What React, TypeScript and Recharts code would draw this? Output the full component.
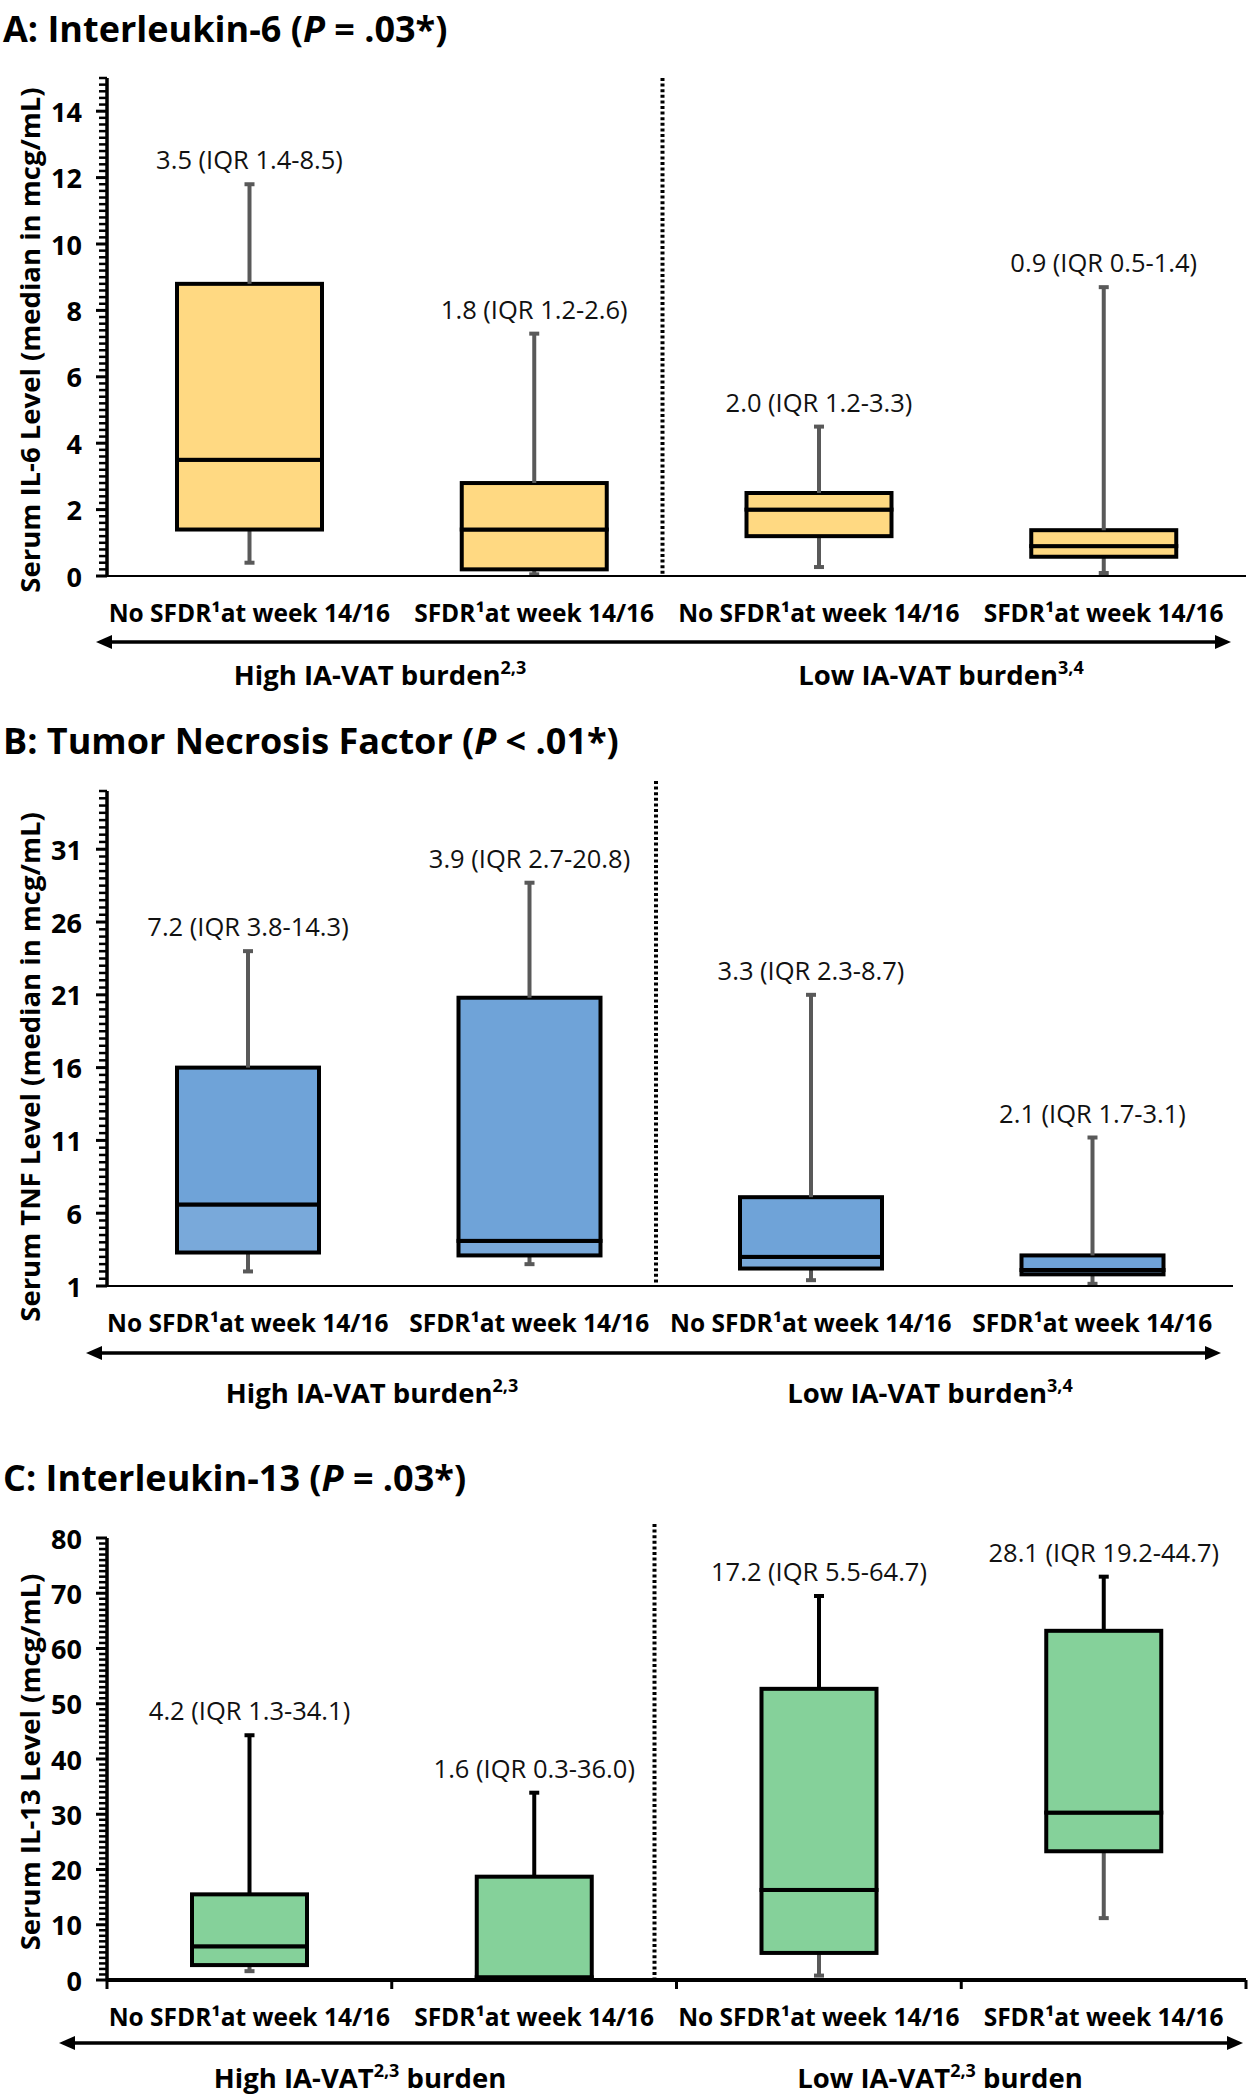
import React from 'react';
import { ComposedChart, Bar, XAxis, YAxis, ReferenceLine, LabelList } from 'recharts';

const FONT = "'Open Sans', sans-serif";

const groupKeys = ['high-no', 'high-sfdr', 'low-no', 'low-sfdr'];
const categoryLabels = [
  'No SFDR¹at week 14/16',
  'SFDR¹at week 14/16',
  'No SFDR¹at week 14/16',
  'SFDR¹at week 14/16',
];

// A: IL-6 (mcg/mL)
const il6Low = [0.4, 0.05, 0.27, 0.09];
const il6Q1 = [1.4, 0.2, 1.2, 0.58];
const il6Median = [3.5, 1.4, 2.0, 0.9];
const il6Q3 = [8.8, 2.8, 2.5, 1.38];
const il6High = [11.8, 7.3, 4.5, 8.7];
const il6Labels = ['3.5 (IQR 1.4-8.5)', '1.8 (IQR 1.2-2.6)', '2.0 (IQR 1.2-3.3)', '0.9 (IQR 0.5-1.4)'];
const il6Ticks = [0, 2, 4, 6, 8, 10, 12, 14];

// B: TNF (mcg/mL)
const tnfLow = [2.0, 2.5, 1.4, 1.15];
const tnfQ1 = [3.3, 3.1, 2.2, 1.8];
const tnfMedian = [6.6, 4.1, 3.0, 2.1];
const tnfQ3 = [16.0, 20.8, 7.1, 3.1];
const tnfHigh = [24.0, 28.7, 21.0, 11.2];
const tnfLabels = ['7.2 (IQR 3.8-14.3)', '3.9 (IQR 2.7-20.8)', '3.3 (IQR 2.3-8.7)', '2.1 (IQR 1.7-3.1)'];
const tnfTicks = [1, 6, 11, 16, 21, 26, 31];

// C: IL-13 (mcg/mL)
const il13Low = [1.6, 0.0, 0.8, 11.2];
const il13Q1 = [2.7, 0.2, 4.9, 23.3];
const il13Median = [6.1, 0.5, 16.3, 30.3];
const il13Q3 = [15.5, 18.7, 52.7, 63.2];
const il13High = [44.3, 33.9, 69.5, 73.0];
const il13Labels = ['4.2 (IQR 1.3-34.1)', '1.6 (IQR 0.3-36.0)', '17.2 (IQR 5.5-64.7)', '28.1 (IQR 19.2-44.7)'];
const il13Ticks = [0, 10, 20, 30, 40, 50, 60, 70, 80];

const buildRows = (lo: number[], q1: number[], med: number[], q3: number[], hi: number[], labels: string[]) =>
  groupKeys.map((key, i) => ({
    key,
    label: labels[i],
    base: lo[i],
    lowWhisker: q1[i] - lo[i],
    lowBox: med[i] - q1[i],
    highBox: q3[i] - med[i],
    highWhisker: hi[i] - q3[i],
  }));

const whisker = (color: string, capTop: boolean) => (props: any) => {
  const { x, y, width, height } = props;
  if (!Number.isFinite(y) || !Number.isFinite(height)) return null;
  const cx = x + width / 2;
  const capY = capTop ? y : y + height;
  return (
    <g>
      <line x1={cx} x2={cx} y1={y} y2={y + height} stroke={color} strokeWidth={4} />
      <line x1={cx - 5} x2={cx + 5} y1={capY} y2={capY} stroke={color} strokeWidth={4} />
    </g>
  );
};

const boxPart = (fill: string) => (props: any) => {
  const { x, y, width, height } = props;
  if (!Number.isFinite(y) || !Number.isFinite(height)) return null;
  return <rect x={x} y={y} width={width} height={height} fill={fill} stroke="#000" strokeWidth={4} />;
};

const statLabel = (props: any) => {
  const vb = props.viewBox || {};
  const x = Number(vb.x ?? props.x);
  const y = Number(vb.y ?? props.y);
  const w = Number(vb.width ?? props.width);
  return (
    <text x={x + w / 2} y={y - 15} textAnchor="middle" fontFamily={FONT} fontSize={25.5} fill="#111">
      {props.value}
    </text>
  );
};

interface PanelProps {
  rows: ReturnType<typeof buildRows>;
  top: number;
  plotHeight: number;
  plotRight: number;
  domain: [number, number];
  majorTicks: number[];
  minorStep: number;
  boxWidth: number;
  fillLow: string;
  fillHigh: string;
  upperColor: string;
  xAxisWidth: number;
  boundaryTicks: boolean;
  dividerShift: number;
  dividerRise: number;
}

const Panel = ({
  rows, top, plotHeight, plotRight, domain, majorTicks, minorStep, boxWidth,
  fillLow, fillHigh, upperColor, xAxisWidth, boundaryTicks, dividerShift, dividerRise,
}: PanelProps) => {
  const yTicks: number[] = [];
  for (let v = domain[0]; v <= domain[1] + 1e-9; v += minorStep) yTicks.push(Math.round(v * 1000) / 1000);
  const isMajor = (v: number) => majorTicks.some((m) => Math.abs(m - v) < 1e-6);

  const valueTick = (p: any) => {
    const v = p.payload.value;
    const major = isMajor(v);
    return (
      <g>
        <line x1={p.x - (major ? 11 : 8)} x2={p.x} y1={p.y} y2={p.y} stroke="#000" strokeWidth={major ? 3 : 2.5} />
        {major && (
          <text x={p.x - 25} y={p.y} textAnchor="end" dominantBaseline="central" fontFamily={FONT} fontWeight={700} fontSize={27} fill="#000">
            {v}
          </text>
        )}
      </g>
    );
  };

  const categoryTick = (p: any) => {
    const half = p.payload?.offset ?? 142;
    const last = p.index === groupKeys.length - 1;
    return (
      <g>
        {boundaryTicks && <line x1={p.x - half} x2={p.x - half} y1={p.y} y2={p.y + 9} stroke="#000" strokeWidth={3} />}
        {boundaryTicks && last && <line x1={p.x + half} x2={p.x + half} y1={p.y} y2={p.y + 9} stroke="#000" strokeWidth={3} />}
        <text x={p.x} y={p.y + 36} textAnchor="middle" dominantBaseline="central" fontFamily={FONT} fontWeight={700} fontSize={24.5} fill="#000">
          {categoryLabels[p.index]}
        </text>
      </g>
    );
  };

  const divider = (p: any) => (
    <line
      x1={p.x1 + dividerShift}
      x2={p.x2 + dividerShift}
      y1={Math.min(p.y1, p.y2) - dividerRise}
      y2={Math.max(p.y1, p.y2)}
      stroke="#000"
      strokeWidth={4}
      strokeDasharray="3 2.6"
    />
  );

  return (
    <div style={{ position: 'absolute', left: 0, top: top - 20 }}>
      <ComposedChart
        width={1255}
        height={plotHeight + 90}
        data={rows}
        margin={{ top: 20, right: 1255 - plotRight, bottom: 0, left: 0 }}
      >
        <XAxis
          dataKey="key"
          interval={0}
          tickLine={false}
          tickSize={0}
          tickMargin={0}
          height={70}
          axisLine={{ stroke: '#000', strokeWidth: xAxisWidth }}
          tick={categoryTick}
        />
        <YAxis
          width={107}
          domain={domain}
          ticks={yTicks}
          interval={0}
          allowDataOverflow
          tickLine={false}
          tickSize={0}
          tickMargin={0}
          axisLine={{ stroke: '#000', strokeWidth: 3.5 }}
          tick={valueTick}
        />
        <ReferenceLine x={groupKeys[2]} position="start" shape={divider} ifOverflow="visible" />
        <Bar dataKey="base" stackId="box" barSize={boxWidth} fill="none" isAnimationActive={false} />
        <Bar dataKey="lowWhisker" stackId="box" barSize={boxWidth} shape={whisker('#595959', false)} isAnimationActive={false} />
        <Bar dataKey="lowBox" stackId="box" barSize={boxWidth} shape={boxPart(fillLow)} isAnimationActive={false} />
        <Bar dataKey="highBox" stackId="box" barSize={boxWidth} shape={boxPart(fillHigh)} isAnimationActive={false} />
        <Bar dataKey="highWhisker" stackId="box" barSize={boxWidth} shape={whisker(upperColor, true)} isAnimationActive={false}>
          <LabelList dataKey="label" content={statLabel} />
        </Bar>
      </ComposedChart>
    </div>
  );
};

const Arrow = ({ x1, x2, y }: { x1: number; x2: number; y: number }) => (
  <g>
    <line x1={x1 + 10} x2={x2 - 10} y1={y} y2={y} stroke="#000" strokeWidth={3.5} />
    <polygon points={`${x1},${y} ${x1 + 16},${y - 7} ${x1 + 16},${y + 7}`} fill="#000" />
    <polygon points={`${x2},${y} ${x2 - 16},${y - 7} ${x2 - 16},${y + 7}`} fill="#000" />
  </g>
);

const supStyle = { fontSize: 18 };

export default function App() {
  return (
    <div style={{ position: 'absolute', left: 0, top: 0, width: 1255, height: 2100, background: '#fff' }}>
      <Panel
        rows={buildRows(il6Low, il6Q1, il6Median, il6Q3, il6High, il6Labels)}
        top={78} plotHeight={498} plotRight={1246} domain={[0, 15]} majorTicks={il6Ticks} minorStep={0.2}
        boxWidth={145} fillLow="#FFD982" fillHigh="#FFD982" upperColor="#595959" xAxisWidth={2}
        boundaryTicks={false} dividerShift={-14} dividerRise={0}
      />
      <Panel
        rows={buildRows(tnfLow, tnfQ1, tnfMedian, tnfQ3, tnfHigh, tnfLabels)}
        top={791} plotHeight={495} plotRight={1233} domain={[1, 35]} majorTicks={tnfTicks} minorStep={0.5}
        boxWidth={142} fillLow="#79A9DA" fillHigh="#6FA3D8" upperColor="#595959" xAxisWidth={2}
        boundaryTicks={false} dividerShift={-14} dividerRise={10}
      />
      <Panel
        rows={buildRows(il13Low, il13Q1, il13Median, il13Q3, il13High, il13Labels)}
        top={1538} plotHeight={442} plotRight={1246} domain={[0, 80]} majorTicks={il13Ticks} minorStep={1}
        boxWidth={115} fillLow="#85D19A" fillHigh="#85D19A" upperColor="#000" xAxisWidth={4}
        boundaryTicks dividerShift={-22} dividerRise={14}
      />
      <svg width={1255} height={2100} style={{ position: 'absolute', left: 0, top: 0, pointerEvents: 'none' }} fontFamily={FONT}>
        <g fontWeight={700} fontSize={36} fill="#000">
          <text x={3} y={28} dominantBaseline="central">
            A: Interleukin-6 (<tspan fontStyle="italic">P</tspan> = .03*)
          </text>
          <text x={3} y={740} dominantBaseline="central">
            B: Tumor Necrosis Factor (<tspan fontStyle="italic">P</tspan> &lt; .01*)
          </text>
          <text x={3} y={1477} dominantBaseline="central">
            C: Interleukin-13 (<tspan fontStyle="italic">P</tspan> = .03*)
          </text>
        </g>
        <g fontWeight={700} fontSize={27.5} fill="#000" textAnchor="middle">
          <text transform="translate(29, 340) rotate(-90)" dominantBaseline="central">Serum IL-6 Level (median in mcg/mL)</text>
          <text transform="translate(29, 1067) rotate(-90)" dominantBaseline="central">Serum TNF Level (median in mcg/mL)</text>
          <text transform="translate(29, 1762) rotate(-90)" dominantBaseline="central">Serum IL-13 Level (mcg/mL)</text>
        </g>
        <Arrow x1={96} x2={1231} y={642} />
        <Arrow x1={86} x2={1221} y={1353} />
        <Arrow x1={59} x2={1243} y={2043} />
        <g fontWeight={700} fontSize={27.5} fill="#000" textAnchor="middle">
          <text x={380} y={685}>High IA-VAT burden<tspan dy={-11} style={supStyle}>2,3</tspan></text>
          <text x={941} y={685}>Low IA-VAT burden<tspan dy={-11} style={supStyle}>3,4</tspan></text>
          <text x={372} y={1403}>High IA-VAT burden<tspan dy={-11} style={supStyle}>2,3</tspan></text>
          <text x={930} y={1403}>Low IA-VAT burden<tspan dy={-11} style={supStyle}>3,4</tspan></text>
          <text x={360} y={2088}>High IA-VAT<tspan dy={-11} style={supStyle}>2,3</tspan><tspan dy={11}> burden</tspan></text>
          <text x={940} y={2088}>Low IA-VAT<tspan dy={-11} style={supStyle}>2,3</tspan><tspan dy={11}> burden</tspan></text>
        </g>
      </svg>
    </div>
  );
}
